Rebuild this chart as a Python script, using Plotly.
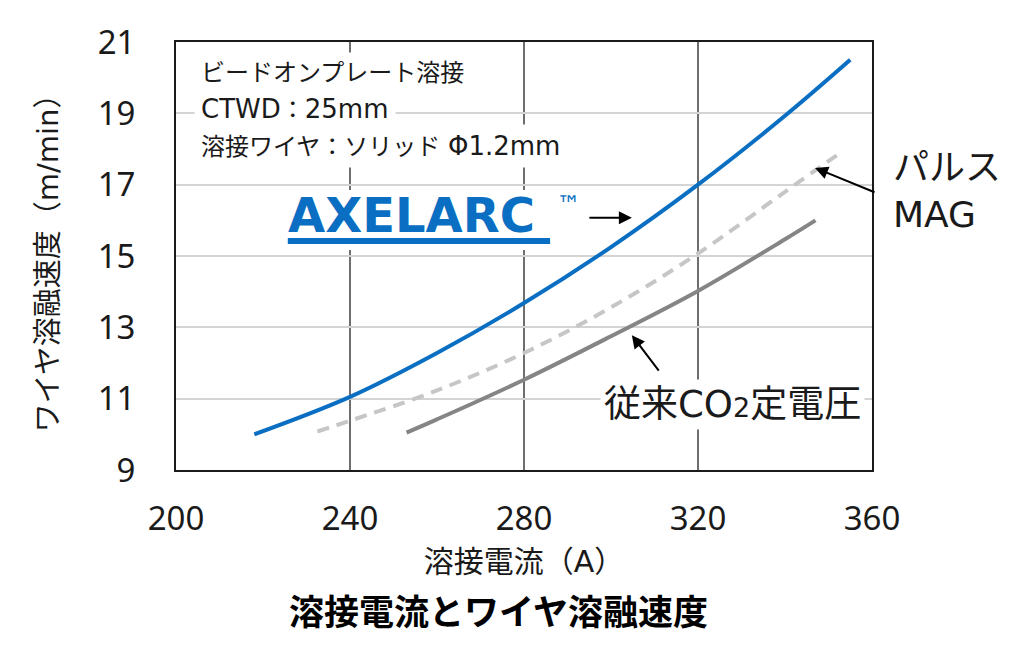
import plotly.graph_objects as go

# ---- data ----
axelarc_current = [218, 240, 260, 280, 300, 320, 340, 355]
axelarc_speed = [10.0, 11.05, 12.28, 13.68, 15.25, 17.0, 18.93, 20.5]

pulse_current = [232.5, 240, 260, 280, 300, 320, 340, 353]
pulse_speed = [10.08, 10.38, 11.23, 12.28, 13.56, 15.07, 16.8, 17.92]

co2_current = [253, 260, 280, 300, 320, 340, 347]
co2_speed = [10.05, 10.42, 11.53, 12.75, 14.02, 15.47, 16.0]

x_ticks = [200, 240, 280, 320, 360]
y_ticks = [9, 11, 13, 15, 17, 19, 21]

JP = "Noto Sans CJK JP, Noto Sans, sans-serif"
MIX = "DejaVu Sans, Noto Sans CJK JP, sans-serif"   # wide Latin + Japanese fallback
TXT = "#1a1a1a"
BLUE = "#0a6fc2"

fig = go.Figure()
fig.add_trace(go.Scatter(x=co2_current, y=co2_speed, mode="lines",
                         line=dict(color="#858585", width=4, shape="spline"),
                         showlegend=False, hoverinfo="skip"))
fig.add_trace(go.Scatter(x=pulse_current, y=pulse_speed, mode="lines",
                         line=dict(color="#c6c6c6", width=4, shape="spline", dash="12px,8px"),
                         showlegend=False, hoverinfo="skip"))
fig.add_trace(go.Scatter(x=axelarc_current, y=axelarc_speed, mode="lines",
                         line=dict(color=BLUE, width=4, shape="spline"),
                         showlegend=False, hoverinfo="skip"))

annotations = []
# top-left condition box (three lines)
L = "<span style='font-size:26px'>{}</span>"
cond_lines = ["ビードオンプレート溶接",
              L.format("CTWD") + "：" + L.format("25mm"),
              "溶接ワイヤ：ソリッド " + L.format("Φ1.2mm")]
for i, t in enumerate(cond_lines):
    annotations.append(dict(
        x=0.026, y=0.927 - i * 0.0845, xref="paper", yref="paper",
        text=t, showarrow=False, xanchor="left", yanchor="middle", align="left",
        font=dict(family=MIX, size=24, color=TXT),
        bgcolor="white", borderpad=6))

# AXELARC logo
annotations.append(dict(
    x=0.158, y=0.596, xref="paper", yref="paper",
    text="AXELARC",
    showarrow=False, xanchor="left", yanchor="middle",
    font=dict(family="DejaVu Sans, Liberation Sans, sans-serif", size=48,
              color=BLUE, weight="bold")))
annotations.append(dict(
    x=0.545, y=0.62, xref="paper", yref="paper",
    text="™", showarrow=False, xanchor="left", yanchor="middle",
    font=dict(family="DejaVu Sans, sans-serif", size=24, color=BLUE)))

# arrows
annotations.append(dict(x=304.8, y=16.07, ax=-44, ay=0, text="", showarrow=True,
                        arrowhead=2, arrowsize=1.3, arrowwidth=2, arrowcolor="black",
                        standoff=0))
annotations.append(dict(x=346.9, y=17.47, ax=61, ay=25, text="", showarrow=True,
                        arrowhead=2, arrowsize=1.3, arrowwidth=2, arrowcolor="black",
                        standoff=0))
annotations.append(dict(x=304.8, y=12.78, ax=28, ay=37, text="", showarrow=True,
                        arrowhead=2, arrowsize=1.3, arrowwidth=2, arrowcolor="black",
                        standoff=0))

# series labels
annotations.append(dict(x=1.028, y=0.652, xref="paper", yref="paper",
                        text="パルス<br>MAG", showarrow=False, xanchor="left",
                        yanchor="middle", align="left",
                        font=dict(family=MIX, size=36, color=TXT)))
annotations.append(dict(x=0.799, y=0.152, xref="paper", yref="paper",
                        text="従来CO<span style='font-size:27px'>2</span>定電圧", showarrow=False,
                        xanchor="center", yanchor="middle",
                        font=dict(family=MIX, size=37, color=TXT),
                        bgcolor="white", borderpad=3))

# bottom caption
annotations.append(dict(x=0.464, y=-0.325, xref="paper", yref="paper",
                        text="<b>溶接電流とワイヤ溶融速度</b>", showarrow=False,
                        xanchor="center", yanchor="middle",
                        font=dict(family=JP, size=35, color="black")))

fig.update_layout(
    width=1016, height=649,
    margin=dict(l=168, r=152, t=34, b=187),
    paper_bgcolor="white", plot_bgcolor="white",
    font=dict(family=JP, color=TXT),
    annotations=annotations,
    xaxis=dict(range=[200, 360], tickvals=x_ticks, ticktext=[str(v) for v in x_ticks],
               showgrid=True, gridcolor="#6e6e6e", gridwidth=1.5,
               showline=True, linecolor="#1a1a1a", linewidth=2, mirror=True,
               ticks="", tickfont=dict(size=33, color=TXT, family="Noto Sans, sans-serif"),
               ticklabelstandoff=18, zeroline=False,
               title=dict(text="溶接電流（A）", font=dict(size=30, family=MIX, color=TXT),
                          standoff=12)),
    yaxis=dict(range=[9, 21], tickvals=y_ticks, ticktext=[str(v) for v in y_ticks],
               showgrid=True, gridcolor="#d4d4d4", gridwidth=1.5,
               showline=True, linecolor="#1a1a1a", linewidth=2, mirror=True,
               ticks="", tickfont=dict(size=33, color=TXT, family="Noto Sans, sans-serif"),
               ticklabelstandoff=32, zeroline=False,
               title=dict(text="ワイヤ溶融速度（m/min）", font=dict(size=29, family=MIX, color=TXT),
                          standoff=30)),
)

# white patch behind the logo (above gridlines, below traces) and its underline bar
fig.add_shape(type="rect", x0=225.1, x1=287.1, y0=15.17, y1=16.85,
              fillcolor="white", line=dict(width=0), layer="between")
fig.add_shape(type="line", x0=225.7, x1=286.0, y0=15.42, y1=15.42,
              line=dict(color=BLUE, width=6), layer="above")

fig.write_html("out.html")
